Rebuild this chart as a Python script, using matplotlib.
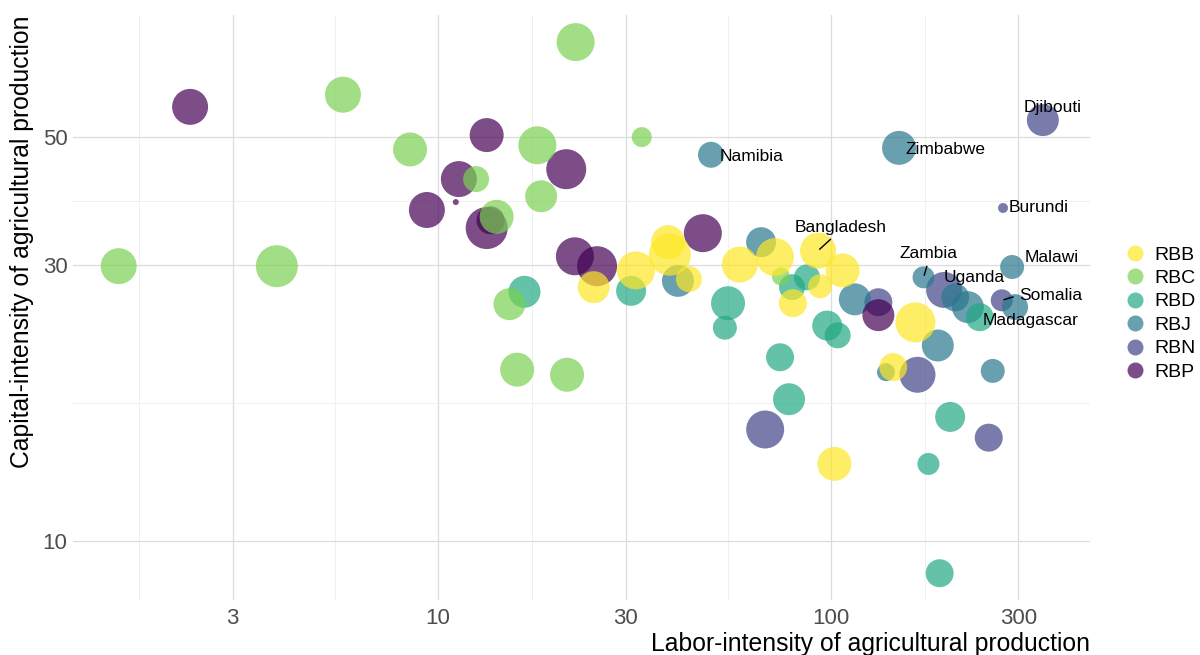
import matplotlib
matplotlib.use("Agg")
import matplotlib.pyplot as plt
from matplotlib.lines import Line2D
from matplotlib.ticker import NullFormatter
import numpy as np

plt.rcParams["font.family"] = ["Liberation Sans", "DejaVu Sans"]

# Data (labor- vs capital-intensity, bubble = output)
regions = ["RBB", "RBC", "RBD", "RBJ", "RBN", "RBP"]

region = (["RBN"] * 8 + ["RBJ"] * 13 + ["RBD"] * 14 + ["RBP"] * 12
          + ["RBC"] * 14 + ["RBB"] * 14)

labor = [
    # RBN
    346, 274, 194, 272, 132, 166, 68, 252,
    # RBJ
    40.8, 49.5, 66.4, 115, 149, 172, 207, 223, 294, 289, 187, 138, 258,
    # RBD
    16.6, 31.0, 54.7, 53.7, 86.9, 79.6, 74.2, 78.2, 97.8, 104, 239, 201, 177, 189,
    # RBP
    2.34, 13.3, 21.2, 11.3, 9.37, 11.1, 13.6, 13.3, 22.3, 25.4, 47.2, 132,
    # RBC
    1.54, 3.89, 5.73, 8.49, 22.4, 17.9, 33.0, 12.5, 18.3, 14.1, 15.2, 15.9, 21.3, 74.6,
    # RBB
    24.9, 31.9, 38.5, 38.9, 43.5, 58.6, 72.0, 92.7, 107, 93.8, 80.0, 164, 144, 102,
]

capital = [
    53.5, 37.7, 27.2, 26.1, 25.9, 19.4, 15.6, 15.1,
    28.2, 46.6, 32.9, 26.2, 47.9, 28.6, 26.4, 25.4, 25.4, 29.8, 21.8, 19.6, 19.7,
    27.0, 27.1, 25.8, 23.4, 28.6, 27.5, 20.8, 17.6, 23.6, 22.7, 24.4, 16.4, 13.6, 8.8,
    56.4, 50.4, 44.0, 42.3, 37.4, 38.6, 35.9, 34.8, 31.1, 29.9, 34.1, 24.6,
    29.9, 29.9, 59.2, 47.6, 73.0, 48.4, 50.0, 42.3, 39.5, 36.4, 25.7, 19.8, 19.4, 28.7,
    27.5, 29.4, 32.9, 31.3, 28.4, 30.1, 31.0, 31.8, 29.4, 27.6, 25.8, 23.9, 20.0, 13.6,
]

output = [
    256, 25, 324, 121, 196, 324, 361, 196,
    256, 169, 225, 256, 289, 121, 196, 256, 169, 144, 256, 81, 144,
    256, 225, 289, 144, 169, 169, 196, 256, 225, 169, 196, 225, 121, 196,
    324, 289, 400, 324, 324, 9, 196, 441, 361, 400, 361, 256,
    324, 441, 324, 289, 361, 361, 100, 169, 256, 289, 256, 289, 289, 81,
    256, 361, 289, 441, 169, 324, 361, 324, 289, 144, 196, 400, 196, 289,
]

country = [""] * len(labor)
country[0] = "Djibouti"
country[1] = "Burundi"
country[2] = "Uganda"
country[3] = "Somalia"
country[9] = "Namibia"
country[12] = "Zimbabwe"
country[13] = "Zambia"
country[16] = "Madagascar"
country[17] = "Malawi"
country[68] = "Bangladesh"

colors = {
    "RBB": "#FDE725",
    "RBC": "#7AD151",
    "RBD": "#22A884",
    "RBJ": "#2A788E",
    "RBN": "#414487",
    "RBP": "#440154",
}
ALPHA = 0.7

# label offsets in points: (dx, dy, ha, relpos of the segment or None)
label_style = {
    "Djibouti": (7, 9, "center", None),
    "Zimbabwe": (5, -1, "left", None),
    "Namibia": (6.5, -1, "left", None),
    "Burundi": (4.3, 0, "left", None),
    "Bangladesh": (16, 17, "center", (0.45, 0)),
    "Zambia": (3.6, 17.3, "center", (0.5, 0)),
    "Uganda": (21.6, 8.6, "center", None),
    "Malawi": (28.8, 7.2, "center", None),
    "Somalia": (35, 3.6, "center", (0, 0.5)),
    "Madagascar": (11.5, -9.4, "center", None),
}

fig = plt.figure(figsize=(12, 6.55), dpi=100)
ax = fig.add_axes([0.0608, 0.084, 0.8475, 0.893])

labor_arr = np.array(labor)
capital_arr = np.array(capital)
output_arr = np.array(output)
region_arr = np.array(region)

for reg in ["RBN", "RBJ", "RBD", "RBP", "RBC", "RBB"]:
    m = region_arr == reg
    ax.scatter(labor_arr[m], capital_arr[m], s=output_arr[m] * 2.07,
               color=colors[reg], alpha=ALPHA, linewidths=0, zorder=3)

for i, name in enumerate(country):
    if not name:
        continue
    dx, dy, ha, rel = label_style[name]
    kw = {}
    if rel is not None:
        kw["arrowprops"] = dict(arrowstyle="-", color="black", lw=1,
                                shrinkA=2, shrinkB=1.5, relpos=rel)
    ax.annotate(name, (labor[i], capital[i]), xytext=(dx, dy),
                textcoords="offset points", ha=ha, va="center",
                fontsize=12.5, color="black", zorder=5, **kw)

ax.set_xscale("log")
ax.set_yscale("log")

x_breaks = [1, 3, 10, 30, 100, 300, 1000]
y_breaks = [3, 10, 30, 50]
ax.set_xticks([3, 10, 30, 100, 300])
ax.set_xticklabels(["3", "10", "30", "100", "300"])
ax.set_xticks(np.sqrt(np.array(x_breaks[:-1]) * np.array(x_breaks[1:])), minor=True)
ax.set_yticks([10, 30, 50])
ax.set_yticklabels(["10", "30", "50"])
ax.set_yticks(np.sqrt(np.array(y_breaks[:-1]) * np.array(y_breaks[1:])), minor=True)
ax.xaxis.set_minor_formatter(NullFormatter())
ax.yaxis.set_minor_formatter(NullFormatter())

# limits after the ticks, so out-of-range minor ticks do not widen the view
ax.set_xlim(1.178, 456)
ax.set_ylim(7.91, 81.3)

ax.tick_params(which="both", length=0, labelsize=16, labelcolor="#4D4D4D")
ax.tick_params(axis="x", pad=6)
ax.tick_params(axis="y", pad=4)
for sp in ax.spines.values():
    sp.set_visible(False)

ax.grid(which="major", color="#DCDCDC", linewidth=0.9)
ax.grid(which="minor", color="#EEEEEE", linewidth=0.6)
ax.set_axisbelow(True)

ax.set_xlabel("Labor-intensity of agricultural production", loc="right",
              fontsize=17.8, labelpad=2)
ax.set_ylabel("Capital-intensity of agricultural production", loc="top",
              fontsize=17.8, labelpad=6)

handles = [Line2D([], [], marker="o", linestyle="", markersize=11.5,
                  markerfacecolor=colors[r], markeredgewidth=0, alpha=ALPHA)
           for r in regions]
ax.legend(handles, regions, loc="center left", bbox_to_anchor=(1.0345, 0.49),
          frameon=False, fontsize=14, handlelength=1, handletextpad=0.5,
          borderaxespad=0, borderpad=0, labelspacing=0.3)

plt.savefig("out.png", dpi=100)
